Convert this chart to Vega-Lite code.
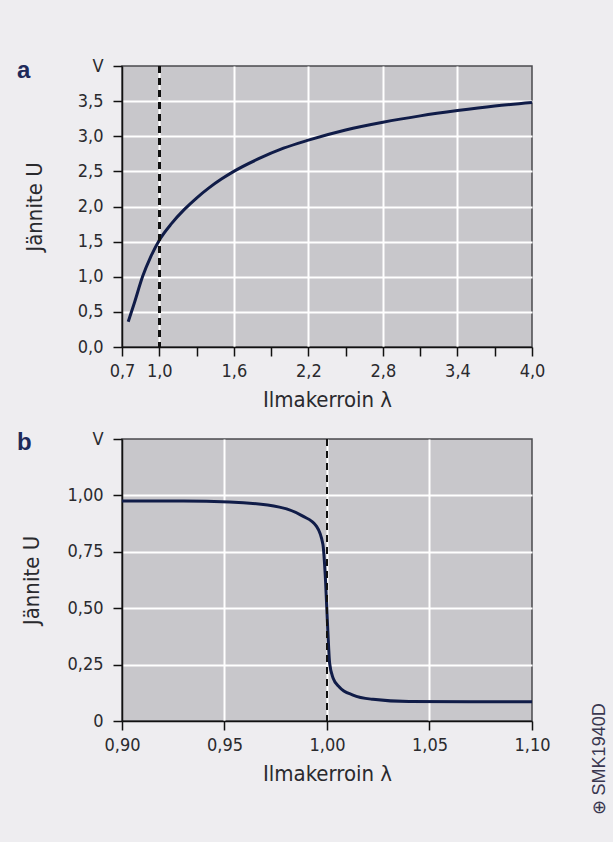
{
  "$schema": "https://vega.github.io/schema/vega-lite/v6.json",
  "background": "#eeedf0",
  "padding": {"left": 16, "top": 56, "right": 5, "bottom": 32},
  "config": {
    "font": "DejaVu Sans Condensed, Liberation Sans, sans-serif",
    "view": {"fill": "#c8c7cb", "stroke": "#4a4a4e", "strokeWidth": 1.5},
    "axis": {
      "labelFont": "DejaVu Sans Condensed, Liberation Sans, sans-serif",
      "titleFont": "DejaVu Sans Condensed, Liberation Sans, sans-serif",
      "labelFontSize": 18,
      "titleFontSize": 22,
      "titleFontWeight": "normal",
      "labelColor": "#2a2a2e",
      "titleColor": "#2a2a2e",
      "domainColor": "#111111",
      "domainWidth": 1.5,
      "tickColor": "#111111",
      "tickWidth": 1.5,
      "tickSize": 9,
      "grid": true,
      "gridColor": "#ffffff",
      "gridWidth": 2,
      "labelOverlap": false,
      "labelFlush": false,
      "tickCount": 30
    },
    "title": {"font": "Liberation Sans", "fontSize": 24, "fontWeight": "bold", "color": "#1e2a5a"}
  },
  "spacing": 18,
  "vconcat": [
    {
      "width": 410,
      "height": 281,
      "title": {"text": "a", "anchor": "start", "frame": "group", "orient": "top", "offset": 0, "dx": -105, "dy": 45, "baseline": "alphabetic"},
      "data": {"values": [
        {"lambda": 0.75, "U": 0.36},
        {"lambda": 0.8, "U": 0.63},
        {"lambda": 0.865, "U": 1.0},
        {"lambda": 0.93, "U": 1.28},
        {"lambda": 1.0, "U": 1.52},
        {"lambda": 1.1, "U": 1.76},
        {"lambda": 1.2, "U": 1.955},
        {"lambda": 1.3, "U": 2.12},
        {"lambda": 1.4, "U": 2.265},
        {"lambda": 1.5, "U": 2.39},
        {"lambda": 1.6, "U": 2.5},
        {"lambda": 1.8, "U": 2.68},
        {"lambda": 2.0, "U": 2.83},
        {"lambda": 2.2, "U": 2.945},
        {"lambda": 2.5, "U": 3.09},
        {"lambda": 2.8, "U": 3.2},
        {"lambda": 3.1, "U": 3.29},
        {"lambda": 3.4, "U": 3.365},
        {"lambda": 3.7, "U": 3.43},
        {"lambda": 4.0, "U": 3.48}
      ]},
      "layer": [
        {
          "mark": {"type": "line", "color": "#101c48", "strokeWidth": 3, "interpolate": "monotone"},
          "encoding": {
            "x": {
              "field": "lambda", "type": "quantitative",
              "scale": {"domain": [0.7, 4.0], "nice": false, "zero": false},
              "axis": {
                "title": "Ilmakerroin λ",
                "values": [0.7, 1.0, 1.3, 1.6, 1.9, 2.2, 2.5, 2.8, 3.1, 3.4, 3.7, 4.0],
                "labelExpr": "(round(datum.value*10) == 13 || round(datum.value*10) == 19 || round(datum.value*10) == 25 || round(datum.value*10) == 31 || round(datum.value*10) == 37) ? '' : replace(format(datum.value, '.1f'), '.', ',')",
                "labelPadding": 6,
                "titlePadding": 9,
                "gridOpacity": {"condition": {"test": "round(datum.value*10) == 16 || round(datum.value*10) == 22 || round(datum.value*10) == 28 || round(datum.value*10) == 34 || round(datum.value*10) == 10", "value": 1}, "value": 0}
              }
            },
            "y": {
              "field": "U", "type": "quantitative",
              "scale": {"domain": [0, 4.0], "nice": false},
              "axis": {
                "title": "Jännite U",
                "values": [0, 0.5, 1.0, 1.5, 2.0, 2.5, 3.0, 3.5, 4.0],
                "labelExpr": "datum.value >= 4 ? 'V' : replace(format(datum.value, '.1f'), '.', ',')",
                "labelPadding": 10,
                "titlePadding": 31,
                "gridOpacity": {"condition": {"test": "datum.value > 0 && datum.value < 4", "value": 1}, "value": 0}
              }
            }
          }
        },
        {
          "mark": {"type": "rule", "color": "#111111", "strokeWidth": 2, "strokeDash": [7, 5]},
          "encoding": {"x": {"datum": 1.0}}
        }
      ]
    },
    {
      "width": 410,
      "height": 282,
      "title": {"text": "b", "anchor": "start", "frame": "group", "orient": "top", "offset": 0, "dx": -105, "dy": 44, "baseline": "alphabetic"},
      "data": {"values": [
        {"lambda": 0.9, "U": 0.975},
        {"lambda": 0.93, "U": 0.975},
        {"lambda": 0.9524, "U": 0.971},
        {"lambda": 0.9768, "U": 0.948},
        {"lambda": 0.9882, "U": 0.908},
        {"lambda": 0.9948, "U": 0.864},
        {"lambda": 0.998, "U": 0.783},
        {"lambda": 0.9993, "U": 0.62},
        {"lambda": 1.0004, "U": 0.4},
        {"lambda": 1.0013, "U": 0.255},
        {"lambda": 1.003, "U": 0.19},
        {"lambda": 1.006, "U": 0.151},
        {"lambda": 1.0127, "U": 0.115},
        {"lambda": 1.0224, "U": 0.096},
        {"lambda": 1.04, "U": 0.086},
        {"lambda": 1.07, "U": 0.085},
        {"lambda": 1.1, "U": 0.085}
      ]},
      "layer": [
        {
          "mark": {"type": "line", "color": "#101c48", "strokeWidth": 3, "interpolate": "monotone"},
          "encoding": {
            "x": {
              "field": "lambda", "type": "quantitative",
              "scale": {"domain": [0.9, 1.1], "nice": false, "zero": false},
              "axis": {
                "title": "Ilmakerroin λ",
                "values": [0.9, 0.95, 1.0, 1.05, 1.1],
                "labelExpr": "replace(format(datum.value, '.2f'), '.', ',')",
                "labelPadding": 6,
                "titlePadding": 9,
                "gridOpacity": {"condition": {"test": "datum.value > 0.91 && datum.value < 1.09", "value": 1}, "value": 0}
              }
            },
            "y": {
              "field": "U", "type": "quantitative",
              "scale": {"domain": [0, 1.25], "nice": false},
              "axis": {
                "title": "Jännite U",
                "values": [0, 0.25, 0.5, 0.75, 1.0, 1.25],
                "labelExpr": "datum.value >= 1.25 ? 'V' : datum.value == 0 ? '0' : replace(format(datum.value, '.2f'), '.', ',')",
                "labelPadding": 10,
                "titlePadding": 23,
                "gridOpacity": {"condition": {"test": "datum.value > 0 && datum.value < 1.25", "value": 1}, "value": 0}
              }
            }
          }
        },
        {
          "mark": {"type": "rule", "color": "#111111", "strokeWidth": 2, "strokeDash": [7, 5]},
          "encoding": {"x": {"datum": 1.0}}
        },
        {
          "data": {"values": [{"lambda": 1.133, "U": -0.17, "label": "⊕ SMK1940D"}]},
          "mark": {"type": "text", "angle": 270, "fontSize": 18, "font": "Liberation Sans", "color": "#3a3850", "align": "center", "baseline": "middle"},
          "encoding": {
            "x": {"field": "lambda", "type": "quantitative"},
            "y": {"field": "U", "type": "quantitative"},
            "text": {"field": "label"}
          }
        }
      ]
    }
  ]
}
